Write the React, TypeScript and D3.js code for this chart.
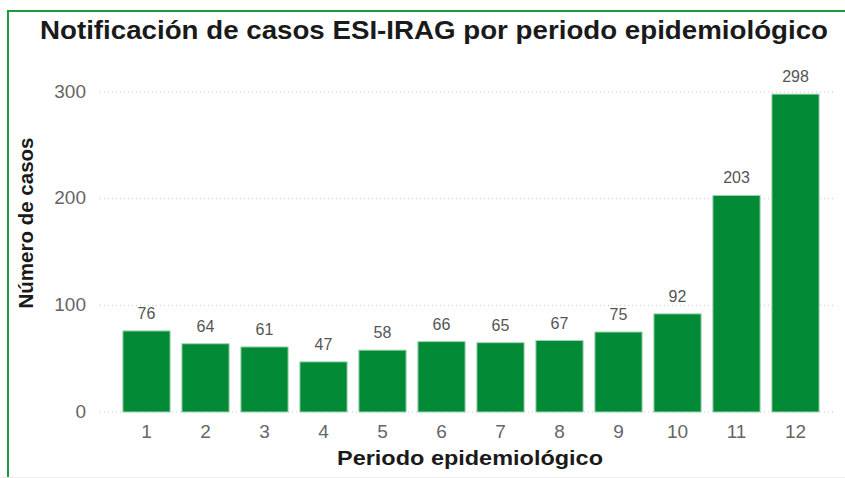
import React from "react";
import { scaleBand, scaleLinear } from "d3";

const periods = ["1", "2", "3", "4", "5", "6", "7", "8", "9", "10", "11", "12"];
const cases = [76, 64, 61, 47, 58, 66, 65, 67, 75, 92, 203, 298];
const yTicks = [0, 100, 200, 300];

const width = 845;
const height = 478;

export default function App() {
  const xScale = scaleBand<string>()
    .domain(periods)
    .range([117, 825])
    .paddingInner(0.2)
    .paddingOuter(0.1);

  const yScale = scaleLinear().domain([0, 300]).range([412, 92]);

  const font = "'Liberation Sans', Arial, sans-serif";

  return (
    <svg
      width={width}
      height={height}
      style={{ position: "absolute", left: 0, top: 0, background: "#fff" }}
    >
      {/* frame */}
      <line x1={7} x2={845} y1={11} y2={11} stroke="#1e9a3e" strokeWidth={2} />
      <line x1={8} x2={8} y1={10} y2={478} stroke="#1e9a3e" strokeWidth={2} />

      {/* title */}
      <text
        x={434}
        y={39}
        textAnchor="middle"
        fontFamily={font}
        fontWeight="bold"
        fontSize={26}
        textLength={788}
        lengthAdjust="spacingAndGlyphs"
        fill="#1a1a1a"
      >
        Notificación de casos ESI-IRAG por periodo epidemiológico
      </text>

      {/* gridlines + y ticks */}
      {yTicks.map((t) => (
        <g key={t}>
          <line
            x1={100}
            x2={835}
            y1={yScale(t)}
            y2={yScale(t)}
            stroke="#c8c8c8"
            strokeDasharray="1,3"
          />
          <text
            x={86}
            y={yScale(t) - 1}
            dy="0.35em"
            textAnchor="end"
            fontFamily={font}
            fontSize={19}
            fill="#666"
          >
            {t}
          </text>
        </g>
      ))}

      {/* bars */}
      {periods.map((p, i) => (
        <g key={p}>
          <rect
            x={xScale(p)}
            y={yScale(cases[i])}
            width={xScale.bandwidth()}
            height={yScale(0) - yScale(cases[i])}
            fill="#038a37"
            stroke="#9fd3b0"
            strokeWidth={1}
          />
          <text
            x={(xScale(p) ?? 0) + xScale.bandwidth() / 2}
            y={yScale(cases[i]) - 12}
            textAnchor="middle"
            fontFamily={font}
            fontSize={16}
            fill="#555"
          >
            {cases[i]}
          </text>
          <text
            x={(xScale(p) ?? 0) + xScale.bandwidth() / 2}
            y={431}
            dy="0.35em"
            textAnchor="middle"
            fontFamily={font}
            fontSize={19}
            fill="#666"
          >
            {p}
          </text>
        </g>
      ))}

      {/* axis titles */}
      <text
        x={470}
        y={465}
        textAnchor="middle"
        fontFamily={font}
        fontWeight="bold"
        fontSize={21}
        textLength={266}
        lengthAdjust="spacingAndGlyphs"
        fill="#1a1a1a"
      >
        Periodo epidemiológico
      </text>
      <text
        transform={`translate(33, 223) rotate(-90)`}
        textAnchor="middle"
        fontFamily={font}
        fontWeight="bold"
        fontSize={21}
        textLength={171}
        lengthAdjust="spacingAndGlyphs"
        fill="#1a1a1a"
      >
        Número de casos
      </text>
      <line x1={0} x2={845} y1={477.5} y2={477.5} stroke="#eee" />
    </svg>
  );
}
